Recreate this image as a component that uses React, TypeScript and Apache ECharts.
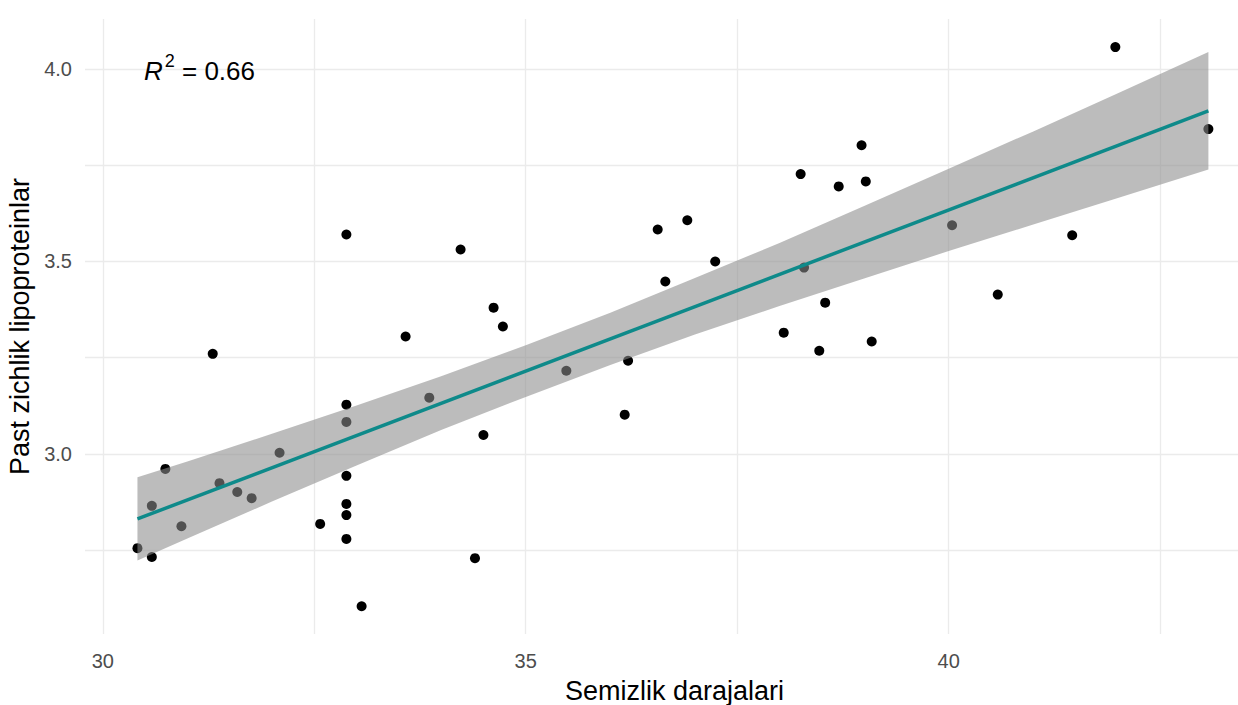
import React, { useEffect, useRef } from "react";
import * as echarts from "echarts";

// Scatter data: Semizlik darajalari (x) vs Past zichlik lipoproteinlar (y)
const pointX = [
  30.41, 30.58, 30.58, 30.74, 30.93, 31.3, 31.38, 31.59, 31.76, 32.09,
  32.57, 32.88, 32.88, 32.88, 32.88, 32.88, 32.88, 32.88, 33.06, 33.58,
  33.86, 34.23, 34.4, 34.5, 34.62, 34.73, 35.48, 36.17, 36.21, 36.56,
  36.65, 36.91, 37.24, 38.05, 38.25, 38.29, 38.47, 38.54, 38.7, 38.97,
  39.02, 39.09, 40.04, 40.58, 41.46, 41.97, 43.07,
];
const pointY = [
  2.755, 2.732, 2.865, 2.961, 2.812, 3.26, 2.924, 2.901, 2.885, 3.003,
  2.818, 3.57, 3.128, 3.083, 2.943, 2.87, 2.841, 2.779, 2.604, 3.305,
  3.146, 3.531, 2.729, 3.049, 3.38, 3.331, 3.216, 3.102, 3.242, 3.583,
  3.448, 3.607, 3.5, 3.315, 3.727, 3.484, 3.268, 3.393, 3.695, 3.802,
  3.708, 3.292, 3.594, 3.414, 3.568, 4.057, 3.844,
];

// Fitted regression line
const fitX = [30.41, 43.07];
const fitY = [2.831, 3.891];

// Confidence band
const bandX = [30.41, 31, 32, 33, 34, 35, 36, 37, 38, 39, 40, 41, 42, 43.07];
const bandLower = [2.723, 2.78, 2.876, 2.97, 3.062, 3.148, 3.231, 3.31, 3.384, 3.456, 3.527, 3.596, 3.665, 3.739];
const bandUpper = [2.939, 2.98, 3.052, 3.126, 3.202, 3.282, 3.367, 3.457, 3.548, 3.644, 3.741, 3.838, 3.937, 4.044];

// Axis ticks
const xLabelTicks = [30, 35, 40];
const xGridTicks = [30, 32.5, 35, 37.5, 40, 42.5];
const yLabelTicks = [3.0, 3.5, 4.0];
const yGridTicks = [2.75, 3.0, 3.25, 3.5, 3.75, 4.0];

const FONT = 'Arial, "Liberation Sans", sans-serif';

export default function App() {
  const ref = useRef<HTMLDivElement>(null);

  useEffect(() => {
    document.body.style.margin = "0";
    if (!ref.current) return;
    const chart = echarts.init(ref.current, undefined, { renderer: "svg" });

    const scatterData = pointX.map((x, i) => [x, pointY[i]]);
    const fitData = fitX.map((x, i) => [x, fitY[i]]);
    const bandData = bandX.map((x, i) => [x, bandLower[i], bandUpper[i]]);

    chart.setOption({
      animation: false,
      backgroundColor: "#ffffff",
      textStyle: { fontFamily: FONT },
      grid: {
        left: 85,
        right: 0,
        top: 19,
        bottom: 71,
        containLabel: false,
        outerBoundsMode: "none",
      },
      xAxis: {
        type: "value",
        min: 29.79,
        max: 43.42,
        axisLine: { show: false },
        axisTick: { show: false, customValues: xGridTicks },
        axisLabel: {
          customValues: xLabelTicks,
          color: "#4d4d4d",
          fontSize: 20,
          margin: 17,
          fontFamily: FONT,
        },
        splitLine: { show: true, lineStyle: { color: "#ebebeb", width: 1.3 } },
        name: "Semizlik darajalari",
        nameLocation: "middle",
        nameGap: 43,
        nameTextStyle: { fontSize: 27, color: "#000", fontFamily: FONT, padding: [0, 0, 0, 26] },
      },
      yAxis: {
        type: "value",
        min: 2.532,
        max: 4.13,
        axisLine: { show: false },
        axisTick: { show: false, customValues: yGridTicks },
        axisLabel: {
          customValues: yLabelTicks,
          color: "#4d4d4d",
          fontSize: 20,
          margin: 13,
          fontFamily: FONT,
          formatter: (v: number) => v.toFixed(1),
        },
        splitLine: { show: true, lineStyle: { color: "#ebebeb", width: 1.3 } },
        name: "Past zichlik lipoproteinlar",
        nameLocation: "middle",
        nameGap: 48,
        nameTextStyle: { fontSize: 27, color: "#000", fontFamily: FONT },
      },
      graphic: [
        {
          type: "text",
          left: 144,
          top: 52,
          z: 10,
          style: {
            text: "{r|R}{s|2}{t| = 0.66}",
            rich: {
              r: { fontSize: 26, fontStyle: "italic", fontFamily: FONT, fill: "#000", verticalAlign: "bottom", lineHeight: 32 },
              s: { fontSize: 18, fontFamily: FONT, fill: "#000", verticalAlign: "top", lineHeight: 32, padding: [0, 0, 0, 2] },
              t: { fontSize: 26, fontFamily: FONT, fill: "#000", verticalAlign: "bottom", lineHeight: 32 },
            },
          },
        },
      ],
      series: [
        {
          type: "scatter",
          data: scatterData,
          symbol: "circle",
          symbolSize: 10,
          itemStyle: { color: "#000000", opacity: 1 },
          z: 2,
          silent: true,
        },
        {
          type: "custom",
          data: bandData,
          encode: { x: 0, y: [1, 2] },
          clip: false,
          z: 3,
          silent: true,
          renderItem: (params: any, api: any) => {
            if (params.dataIndex !== 0) return null;
            const upper = bandData.map((d) => api.coord([d[0], d[2]]));
            const lower = bandData.map((d) => api.coord([d[0], d[1]])).reverse();
            return {
              type: "polygon",
              shape: { points: upper.concat(lower) },
              style: { fill: "rgba(140,140,140,0.58)" },
            };
          },
        },
        {
          type: "line",
          data: fitData,
          symbol: "none",
          lineStyle: { color: "#0e8a8a", width: 3.5 },
          z: 4,
          silent: true,
        },
      ],
    });

    return () => chart.dispose();
  }, []);

  return (
    <div
      ref={ref}
      style={{ position: "absolute", left: 0, top: 0, width: 1238, height: 705 }}
    />
  );
}
